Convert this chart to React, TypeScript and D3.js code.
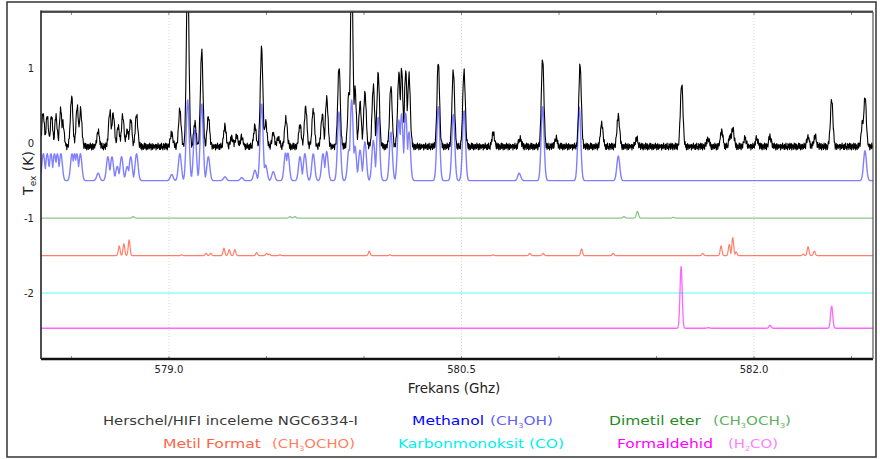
import React from "react";
import * as d3 from "d3";

// line lists: [frequency GHz, amplitude K]
const observedPeaks: [number, number][] = [
  [578.355, 0.45], [578.376, 0.4], [578.398, 0.4], [578.421, 0.4], [578.445, 0.49],
  [578.456, 0.32], [578.501, 0.66], [578.53, 0.53], [578.547, 0.49], [578.637, 0.2],
  [578.697, 0.47], [578.714, 0.45], [578.74, 0.27], [578.763, 0.41], [578.786, 0.22],
  [578.804, 0.36], [578.834, 0.42], [579.014, 0.18], [579.056, 0.49], [579.096, 2.4],
  [579.133, 0.31], [579.168, 1.29], [579.202, 0.4], [579.287, 0.27], [579.322, 0.13],
  [579.347, 0.15], [579.373, 0.13], [579.441, 0.27], [579.475, 1.33], [579.496, 0.33],
  [579.535, 0.18], [579.561, 0.12], [579.6, 0.38], [579.672, 0.29], [579.701, 0.53],
  [579.74, 0.49], [579.786, 0.42], [579.809, 0.65], [579.872, 1.07], [579.923, 0.73],
  [579.937, 2.4], [579.954, 0.78], [579.98, 0.58], [580.005, 0.72], [580.048, 0.8],
  [580.073, 0.97], [580.138, 0.81], [580.179, 0.98], [580.193, 1.03], [580.214, 1.01],
  [580.231, 0.96], [580.381, 1.13], [580.458, 1.02], [580.513, 1.01], [580.663, 0.18],
  [580.8, 0.11], [580.916, 1.18], [580.985, 0.11], [581.108, 1.09], [581.219, 0.31],
  [581.304, 0.42], [581.398, 0.11], [581.629, 0.85], [581.764, 0.11], [581.834, 0.21],
  [581.877, 0.13], [581.891, 0.25], [581.954, 0.11], [582.014, 0.11], [582.082, 0.13],
  [582.277, 0.13], [582.313, 0.14], [582.398, 0.63], [582.557, 0.35], [582.569, 0.67],
];

const methanolPeaks: [number, number][] = [
  [578.347, 0.1], [578.356, 0.36], [578.376, 0.36], [578.395, 0.36], [578.413, 0.36],
  [578.428, 0.36], [578.446, 0.36], [578.503, 0.36], [578.516, 0.36], [578.528, 0.36],
  [578.546, 0.36], [578.637, 0.1], [578.687, 0.32], [578.708, 0.32], [578.735, 0.19],
  [578.757, 0.32], [578.786, 0.19], [578.804, 0.32], [578.834, 0.36], [579.014, 0.08],
  [579.056, 0.36], [579.096, 1.08], [579.133, 0.68], [579.168, 1.03], [579.202, 0.32],
  [579.287, 0.05], [579.373, 0.04], [579.441, 0.14], [579.475, 1.03], [579.496, 0.21],
  [579.535, 0.12], [579.598, 0.37], [579.61, 0.37], [579.672, 0.32], [579.697, 0.36],
  [579.74, 0.36], [579.79, 0.36], [579.809, 0.39], [579.872, 0.92], [579.923, 0.42],
  [579.937, 1.08], [579.954, 0.46], [579.98, 0.41], [580.005, 0.52], [580.048, 0.54],
  [580.073, 0.85], [580.138, 0.65], [580.179, 0.81], [580.193, 0.9], [580.214, 0.9],
  [580.231, 0.65], [580.381, 0.99], [580.458, 0.89], [580.513, 0.94], [580.796, 0.1],
  [580.916, 0.99], [581.104, 0.98], [581.304, 0.33], [582.569, 0.4],
];

const dimethylEtherPeaks: [number, number][] = [
  [578.817, 0.02], [579.621, 0.02], [579.646, 0.02], [581.333, 0.02], [581.402, 0.09],
  [581.586, 0.01],
];

const methylFormatePeaks: [number, number][] = [
  [578.745, 0.13], [578.769, 0.16], [578.796, 0.21], [579.065, 0.01], [579.19, 0.03],
  [579.214, 0.03], [579.282, 0.1], [579.309, 0.08], [579.338, 0.08], [579.45, 0.04],
  [579.501, 0.03], [579.514, 0.02], [579.569, 0.01], [580.027, 0.06], [580.133, 0.01],
  [580.663, 0.01], [580.851, 0.03], [580.919, 0.03], [581.116, 0.09], [581.278, 0.03],
  [581.737, 0.03], [581.831, 0.13], [581.873, 0.15], [581.891, 0.24], [581.908, 0.05],
  [582.253, 0.02], [582.277, 0.12], [582.309, 0.06],
];

const coPeaks: [number, number][] = [];

const formaldehydePeaks: [number, number][] = [
  [581.626, 0.83], [581.766, 0.01], [582.082, 0.04], [582.398, 0.3],
];

// vertical offsets of each trace (K)
const traceOffsets = [-0.045, -0.5, -1.0, -1.5, -2.0, -2.47];

// baseline ripple of the observed spectrum (K), estimated
const baselineRipple = [
  0.03, -0.04, 0.015, 0.045, -0.025, 0.0, -0.045, 0.04, -0.015, 0.025, -0.04, 0.045, 0.015,
  -0.03, 0.04, -0.045, 0.0, 0.03, -0.015, -0.04, 0.045, 0.01, -0.03, 0.04, -0.045, 0.025,
  0.0, -0.04, 0.015, 0.045, -0.025, 0.04, -0.015, -0.045, 0.03, 0.015, -0.04, 0.03, 0.0,
  -0.03, 0.045, -0.015, 0.025, -0.045, 0.015, 0.04, -0.04, 0.0, 0.03, -0.025, 0.015, -0.01,
  0.03, -0.045, 0.025, 0.01, -0.03, 0.045, -0.015, 0.015, -0.04,
];

const yTicks = [1, 0, -1, -2];
const xLabelTicks = [579.0, 580.5, 582.0];
const xMinorTicks = [578.5, 579.0, 579.5, 580.0, 580.5, 581.0, 581.5, 582.0, 582.5];

const W = 880, H = 459;
const plot = { left: 41, top: 12, right: 873, bottom: 359 };

const x = d3.scaleLinear().domain([578.344, 582.61]).range([plot.left, plot.right]);
const y = d3.scaleLinear().domain([1.75, -2.88]).range([plot.top, plot.bottom]);

const freqs = d3.range(578.344, 582.612, 0.0025);

function spectrum(peaks: [number, number][], offset: number, sigma: number, ripple: boolean) {
  return freqs.map((f, i) => {
    let v = 0;
    for (const [f0, a] of peaks) {
      const d = (f - f0) / sigma;
      if (Math.abs(d) < 6) v = Math.max(v, a * Math.exp(-0.5 * d * d));
    }
    const r = ripple ? baselineRipple[i % baselineRipple.length] : 0;
    return [f, offset + v + r] as [number, number];
  });
}

const line = d3.line<[number, number]>().x(d => x(d[0])).y(d => y(d[1]));

const traces = [
  { peaks: observedPeaks, sigma: 0.0065, ripple: true, color: "#000", opacity: 1, width: 1.1 },
  { peaks: methanolPeaks, sigma: 0.0075, ripple: false, color: "#0000ff", opacity: 0.5, width: 1.4 },
  { peaks: dimethylEtherPeaks, sigma: 0.0055, ripple: false, color: "#008000", opacity: 0.45, width: 1.3 },
  { peaks: methylFormatePeaks, sigma: 0.0045, ripple: false, color: "#ff3a1a", opacity: 0.65, width: 1.2 },
  { peaks: coPeaks, sigma: 0.005, ripple: false, color: "#00ffff", opacity: 0.45, width: 1.5 },
  { peaks: formaldehydePeaks, sigma: 0.0055, ripple: false, color: "#ff00ff", opacity: 0.6, width: 1.3 },
];

const font = "DejaVu Sans, sans-serif";

function Formula({ parts, x0, y0, len, color }: { parts: [string, boolean][]; x0: number; y0: number; len: number; color: string }) {
  return (
    <text x={x0} y={y0} fill={color} fontSize={13} fontFamily={font} textLength={len} lengthAdjust="spacingAndGlyphs">
      {parts.map(([t, sub], i) =>
        sub ? (
          <tspan key={i} fontSize={7} dy={3}>{t}</tspan>
        ) : (
          <tspan key={i} dy={i > 0 && parts[i - 1][1] ? -3 : 0}>{t}</tspan>
        )
      )}
    </text>
  );
}

export default function App() {
  return (
    <svg width={W} height={H} style={{ position: "absolute", left: 0, top: 0, background: "#fff" }}>
      <defs>
        <clipPath id="plotclip">
          <rect x={plot.left} y={plot.top} width={plot.right - plot.left} height={plot.bottom - plot.top} />
        </clipPath>
      </defs>
      <rect x={7} y={2} width={869} height={455} fill="none" stroke="#333" strokeWidth={1.5} />

      {xLabelTicks.map(t => (
        <line key={t} x1={x(t)} x2={x(t)} y1={plot.top} y2={plot.bottom} stroke="#d8d8d8" strokeWidth={1} strokeDasharray="1,2" />
      ))}

      <g clipPath="url(#plotclip)">
        {traces.map((t, i) => (
          <path key={i} d={line(spectrum(t.peaks, traceOffsets[i], t.sigma, t.ripple)) || ""}
            fill="none" stroke={t.color} strokeOpacity={t.opacity} strokeWidth={t.width} strokeLinejoin="round" />
        ))}
      </g>

      {xMinorTicks.map(t => (
        <g key={t} stroke="#888" strokeWidth={1}>
          <line x1={x(t)} x2={x(t)} y1={plot.top} y2={plot.top + 3} />
          <line x1={x(t)} x2={x(t)} y1={plot.bottom} y2={plot.bottom - 3} />
        </g>
      ))}

      <line x1={plot.left} x2={plot.right} y1={plot.top - 1} y2={plot.top - 1} stroke="#999" strokeWidth={1.5} />
      <line x1={plot.left} x2={plot.right} y1={plot.top} y2={plot.top} stroke="#222" strokeWidth={1.5} />
      <line x1={plot.left} x2={plot.right} y1={plot.bottom} y2={plot.bottom} stroke="#111" strokeWidth={2.5} />
      <line x1={plot.left} x2={plot.left} y1={plot.top - 1.5} y2={plot.bottom} stroke="#222" strokeWidth={1.6} />
      <line x1={plot.right} x2={plot.right} y1={plot.top} y2={plot.bottom} stroke="#555" strokeWidth={1.2} />

      {yTicks.map(t => (
        <text key={t} x={34} y={y(t)} dy="0.35em" textAnchor="end" fontSize={10} fontFamily={font} fill="#222">
          {t < 0 ? `-${Math.abs(t)}` : t}
        </text>
      ))}
      {xLabelTicks.map(t => (
        <text key={t} x={x(t)} y={373} textAnchor="middle" fontSize={10} fontFamily={font} fill="#222">
          {d3.format(".1f")(t)}
        </text>
      ))}

      <text x={454} y={393} textAnchor="middle" fontSize={13.5} fontFamily={font} fill="#222">Frekans (Ghz)</text>
      <text transform="translate(33,173) rotate(-90)" textAnchor="middle" fontSize={14} fontFamily={font} fill="#222">
        T<tspan fontSize={9} dy={3}>ex</tspan><tspan dy={-3}> (K)</tspan>
      </text>

      <text x={103} y={425} fill="#3a3a3a" fontSize={13} fontFamily={font} textLength={255} lengthAdjust="spacingAndGlyphs">
        Herschel/HIFI inceleme NGC6334-I
      </text>
      <text x={412} y={425} fill="#0000ff" fontSize={13} fontFamily={font} textLength={72} lengthAdjust="spacingAndGlyphs">Methanol</text>
      <Formula parts={[["(CH", false], ["3", true], ["OH)", false]]} x0={490} y0={425} len={63} color="#6060ff" />
      <text x={609} y={425} fill="#228b22" fontSize={13} fontFamily={font} textLength={92} lengthAdjust="spacingAndGlyphs">Dimetil eter</text>
      <Formula parts={[["(CH", false], ["3", true], ["OCH", false], ["3", true], [")", false]]} x0={713} y0={425} len={78} color="#5fb05f" />

      <text x={163} y={448} fill="#ff6347" fontSize={13} fontFamily={font} textLength={98} lengthAdjust="spacingAndGlyphs">Metil Format</text>
      <Formula parts={[["(CH", false], ["3", true], ["OCHO)", false]]} x0={272} y0={448} len={83} color="#ff7f60" />
      <text x={398} y={448} fill="#00f0f0" fontSize={13} fontFamily={font} textLength={166} lengthAdjust="spacingAndGlyphs">Karbonmonoksit (CO)</text>
      <text x={617} y={448} fill="#ff00ff" fontSize={13} fontFamily={font} textLength={96} lengthAdjust="spacingAndGlyphs">Formaldehid</text>
      <Formula parts={[["(H", false], ["2", true], ["CO)", false]]} x0={728} y0={448} len={50} color="#ff80ff" />
    </svg>
  );
}
